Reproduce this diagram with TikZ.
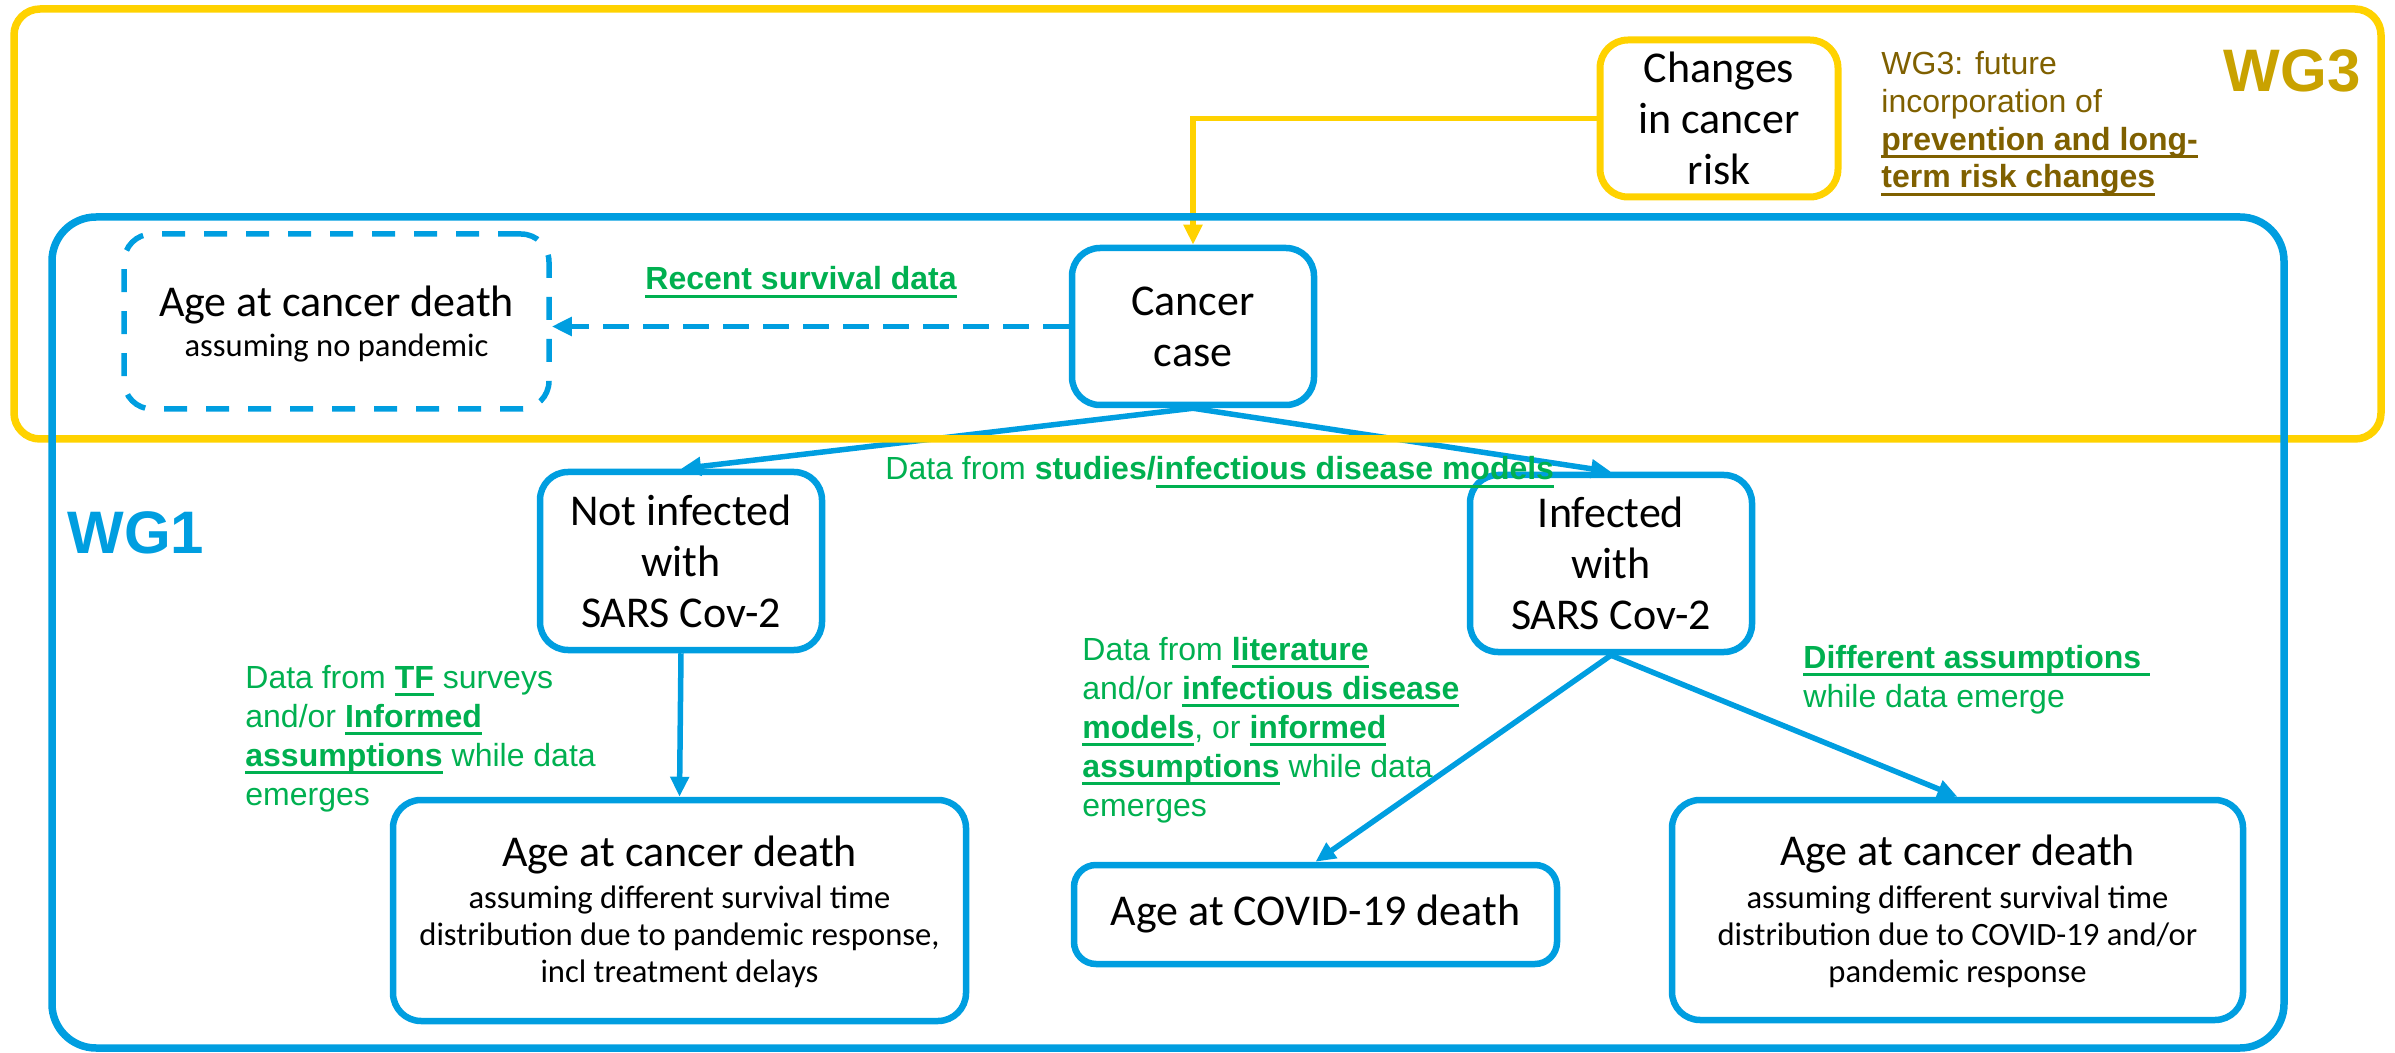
\documentclass[tikz,border=0pt]{standalone}
\usepackage{fontspec}
\setmainfont{Liberation Sans}
\newfontfamily\boxfont{Carlito}
\usetikzlibrary{arrows.meta}
\definecolor{wgblue}{RGB}{0,158,224}
\definecolor{wgyellow}{RGB}{255,210,0}
\definecolor{wggreen}{RGB}{0,176,80}
\definecolor{wgolive}{RGB}{127,96,0}
\definecolor{wggold}{RGB}{201,162,0}
\newsavebox\ulbox
\newcommand\gul[1]{\leavevmode\sbox\ulbox{#1}\rlap{\rule[-4pt]{\wd\ulbox}{1.5pt}}\usebox\ulbox}
\newcommand\gb[1]{\gul{\bfseries #1}}
\begin{document}
\begin{tikzpicture}[x=0.5pt,y=-0.5pt,
  bluebox/.style={draw=wgblue, line width=3.25pt, rounded corners=14pt, inner sep=0pt, align=center,
    font=\boxfont\fontsize{22}{25.5}\selectfont},
  yellowbox/.style={bluebox, draw=wgyellow, line width=3.5pt},
  dashbox/.style={bluebox, line width=2.75pt, dash pattern=on 11.5pt off 9.5pt},
  titletext/.style={inner sep=0pt, font=\boxfont\fontsize{22}{25.5}\selectfont},
  subtext/.style={inner sep=0pt, align=center, font=\boxfont\fontsize{16.3}{18.5}\selectfont},
  greentext/.style={inner sep=0pt, align=left, text=wggreen, font=\fontsize{16}{19.5}\selectfont, anchor=base west},
  olivetext/.style={greentext, text=wgolive, font=\fontsize{16}{18.85}\selectfont},
  wglabel/.style={inner sep=0pt, font=\bfseries\fontsize{30}{30}\selectfont},
  conn/.style={draw=wgblue, line width=2.75pt, -{Triangle[length=10pt,width=9pt]}},
  yconn/.style={conn, draw=wgyellow},
  dconn/.style={conn, line width=2.75pt, dash pattern=on 13pt off 7pt},
  yframe/.style={draw=wgyellow, line width=3.75pt, rounded corners=13pt},
  bframe/.style={draw=wgblue, line width=3.75pt, rounded corners=22pt}
]
\useasboundingbox (0,0) rectangle (2395,1053);

% boxes
\node[yellowbox, minimum width=119pt, minimum height=78.5pt] (changes) at (1719,118.5) {Changes\\in cancer\\risk};
\node[bluebox, minimum width=121pt, minimum height=78.5pt] (cancer) at (1193,326.5) {Cancer\\case};
\node[dashbox, minimum width=212.5pt, minimum height=87.5pt] (nopand) at (336.5,321.5) {};
\node[bluebox, minimum width=141pt, minimum height=89pt] (notinf) at (681,561) {Not infected\\with\\SARS Cov-2};
\node[bluebox, minimum width=141pt, minimum height=88.5pt] (inf) at (1611,563.5) {Infected\\with\\SARS Cov-2};
\node[bluebox, minimum width=286.5pt, minimum height=110.5pt] (deathL) at (679.5,910.5) {};
\node[bluebox, rounded corners=11pt, minimum width=241.5pt, minimum height=49.5pt] (covid) at (1315.5,914.5) {Age at COVID-19 death};
\node[bluebox, minimum width=285.5pt, minimum height=110pt] (deathR) at (1957.5,910) {};

% texts inside boxes (multi-line nodes are placed by the baseline of their last line)
\node[titletext, anchor=base] (tN) at (336.5,317) {Age at cancer death};
\node[subtext, anchor=base] (sN) at (336.5,357) {assuming no pandemic};
\node[titletext, anchor=base] (tL) at (679.5,866) {Age at cancer death};
\node[subtext, anchor=base] (sL) at (679.5,982) {assuming different survival time\\distribution due to pandemic response,\\incl treatment delays};
\node[titletext, anchor=base] (tR) at (1957.5,865) {Age at cancer death};
\node[subtext, anchor=base] (sR) at (1957.5,982) {assuming different survival time\\distribution due to COVID-19 and/or\\pandemic response};

% connectors
\draw[yconn] (changes.west) -| (cancer.north);
\draw[dconn] (cancer.west) -- (cancer.west -| nopand.east);
\draw[conn] (cancer.south) -- (notinf.north);
\draw[conn] (cancer.south) -- (inf.north);
\draw[conn] (notinf.south) -- (deathL.north);
\draw[conn] (inf.south) -- (covid.north);
\draw[conn] (inf.south) -- (deathR.north);

% labels
\node[greentext] (lrecent) at (645,290) {\gb{Recent survival data}};
\node[greentext] (lstudies) at (885,480) {Data from {\bfseries studies/}\gb{infectious disease models}};
\node[greentext] (lTF) at (245,805) {Data from \gb{TF} surveys\\and/or \gb{Informed}\\\gb{assumptions} while data\\emerges};
\node[greentext] (llit) at (1082,816) {Data from \gb{literature}\\and/or \gb{infectious disease}\\\gb{models}, or \gb{informed}\\\gb{assumptions} while data\\emerges};
\node[greentext] (ldiff) at (1803,707) {\gb{Different assumptions\ }\\while data emerge};
\node[olivetext] (lwg3) at (1881,188) {WG3: future\\incorporation of\\\gb{prevention and long-}\\\gb{term risk changes}};

% frames
\draw[yframe] (14,9) rectangle (2381,439);
\draw[bframe] (52,217) rectangle (2284,1048);

\node[wglabel, text=wgblue] (wg1) at (136,533) {WG1};
\node[wglabel, text=wggold] (wg3) at (2292,71) {WG3};
\end{tikzpicture}
\end{document}
